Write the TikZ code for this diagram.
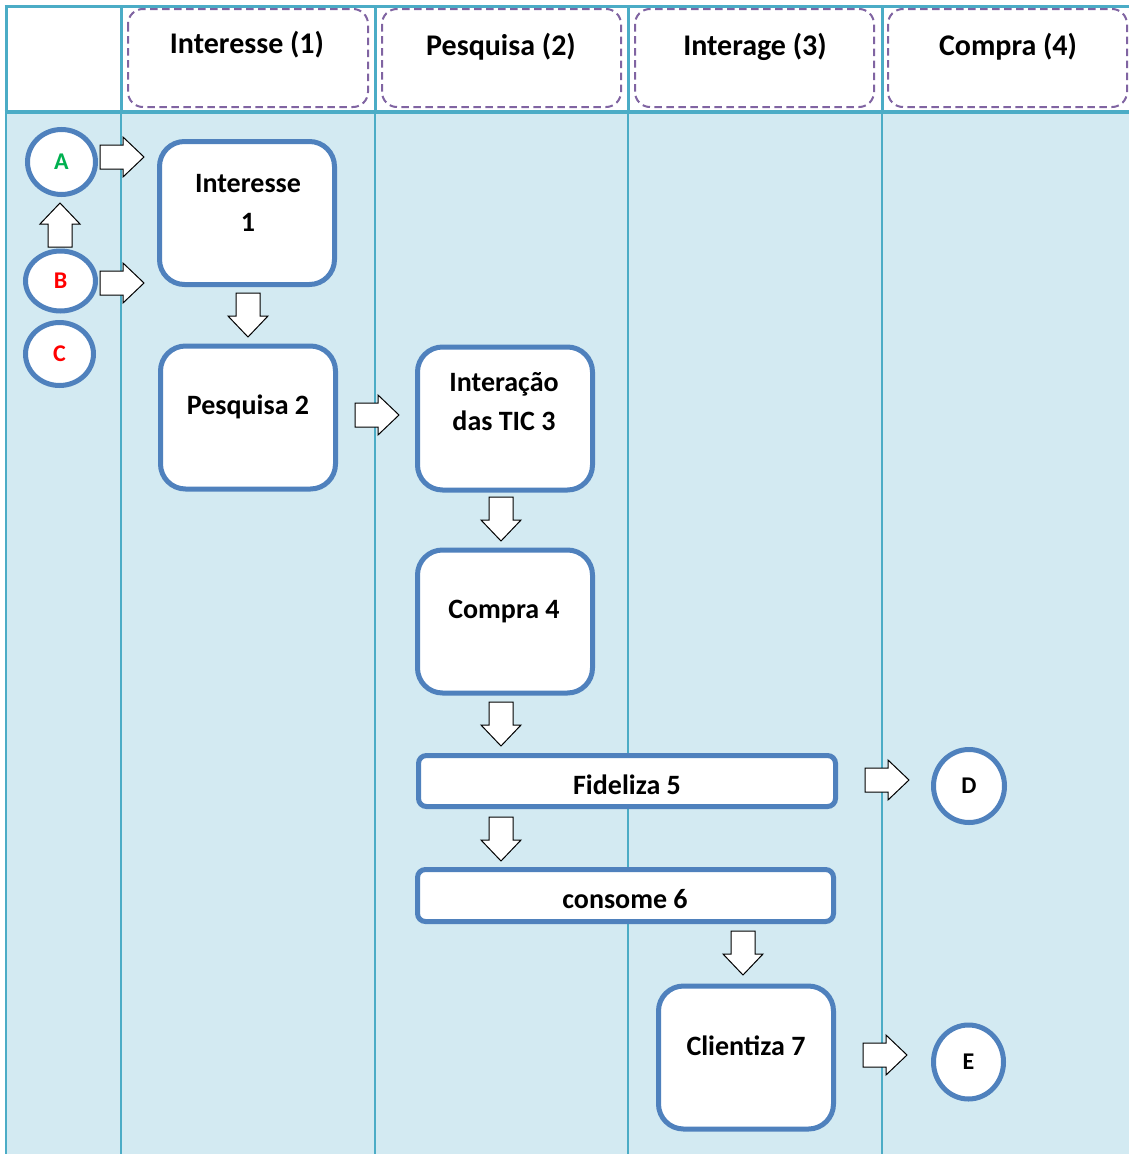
\documentclass[tikz,border=0pt]{standalone}
\usepackage{fontspec}
\setmainfont{Carlito}
\usetikzlibrary{shapes.geometric}
\definecolor{laneline}{HTML}{4BACC6}
\definecolor{lanefill}{HTML}{D3EAF2}
\definecolor{boxblue}{HTML}{4F81BD}
\definecolor{hdrline}{HTML}{8064A2}
\definecolor{agreen}{HTML}{00B050}
\definecolor{bred}{HTML}{FF0000}
\begin{document}
\begin{tikzpicture}[x=1pt,y=-1pt,
  lane/.style={draw=laneline, line width=1.6pt},
  hdrlane/.style={draw=laneline, line width=3pt},
  hdrbox/.style={draw=hdrline, dash pattern=on 7.5pt off 4.5pt, line width=2pt, rounded corners=15pt},
  hdrtext/.style={anchor=base, font=\fontsize{30}{36}\selectfont\bfseries},
  stepbox/.style={draw=boxblue, line width=5pt, fill=white, rounded corners=25pt,
    inner sep=0pt, minimum width=175pt, minimum height=143pt},
  barbox/.style={draw=boxblue, line width=5pt, fill=white, rounded corners=8pt,
    inner sep=0pt, minimum height=51pt},
  steptext/.style={anchor=base, font=\fontsize{28}{34}\selectfont\bfseries},
  ring/.style={ellipse, draw=boxblue, line width=5pt, fill=white, inner sep=0pt,
    font=\fontsize{24}{28}\selectfont\bfseries},
  blockarrow/.pic={\draw[fill=white, draw=black, line width=1pt, line join=miter]
    (0,-12) -- (23,-12) -- (23,-20) -- (44,0) -- (23,20) -- (23,12) -- (0,12) -- cycle;}
]
\useasboundingbox (0,0) rectangle (1129,1154);

% swimlane frame
\fill[white] (6,6) rectangle (1129,111);
\fill[lanefill] (6,111) rectangle (1129,1154);
\foreach \xx in {6,121,375,628,882}{
  \draw[lane] (\xx,111) -- (\xx,1154);
  \draw[hdrlane] (\xx,6) -- (\xx,111);
}
\draw[hdrlane] (4.5,6) -- (1129,6);
\draw[draw=laneline, line width=4pt] (4.5,111.5) -- (1129,111.5);

% lane headers
\draw[hdrbox] (128,9) rectangle (368,107);
\draw[hdrbox] (382,9) rectangle (621,107);
\draw[hdrbox] (635,9) rectangle (874,107);
\draw[hdrbox] (888,9) rectangle (1127,107);
\node[hdrtext] (h1) at (247,53) {Interesse (1)};
\node[hdrtext] (h2) at (501,55) {Pesquisa (2)};
\node[hdrtext] (h3) at (755,55) {Interage (3)};
\node[hdrtext] (h4) at (1008,55) {Compra (4)};

% start and end points
\node[ring, minimum width=68pt, minimum height=65pt, text=agreen] (A) at (61.5,162) {A};
\node[ring, minimum width=70pt, minimum height=60pt, text=bred] (B) at (60.5,281) {B};
\node[ring, minimum width=68pt, minimum height=63pt, text=bred] (C) at (59.5,354) {C};
\node[ring, minimum width=71pt, minimum height=73pt] (D) at (969,786) {D};
\node[ring, minimum width=70pt, minimum height=74pt] (E) at (968.5,1062) {E};

% process steps
\node[stepbox] (s1) at (247,213) {};
\node[stepbox] (s2) at (248,417.5) {};
\node[stepbox] (s3) at (505,418.5) {};
\node[stepbox] (s4) at (505,621.5) {};
\node[barbox, minimum width=417pt, minimum height=51pt] (s5) at (627,781) {};
\node[barbox, minimum width=416pt, minimum height=52pt] (s6) at (625.5,895.5) {};
\node[stepbox] (s7) at (746,1057.5) {};

\node[steptext] (t1a) at (248,192) {Interesse};
\node[steptext] (t1b) at (248,231) {1};
\node[steptext] (t2) at (248,414) {Pesquisa 2};
\node[steptext] (t3a) at (504,391) {Interação};
\node[steptext] (t3b) at (504,430) {das TIC 3};
\node[steptext] (t4) at (504,618) {Compra 4};
\node[steptext] (t5) at (627,794) {Fideliza 5};
\node[steptext] (t6) at (625,908) {consome 6};
\node[steptext] (t7) at (746,1055) {Clientiza 7};

% block arrows between the shapes
\pic at (100,157) {blockarrow};
\pic at (100,283) {blockarrow};
\pic[rotate=90] at (60,247) {blockarrow};
\pic[rotate=-90] at (248,293) {blockarrow};
\pic at (355,415) {blockarrow};
\pic[rotate=-90] at (501,497) {blockarrow};
\pic[rotate=-90] at (501,702) {blockarrow};
\pic at (865,780) {blockarrow};
\pic[rotate=-90] at (501,817) {blockarrow};
\pic[rotate=-90] at (743,931) {blockarrow};
\pic at (863,1055) {blockarrow};
\end{tikzpicture}
\end{document}
